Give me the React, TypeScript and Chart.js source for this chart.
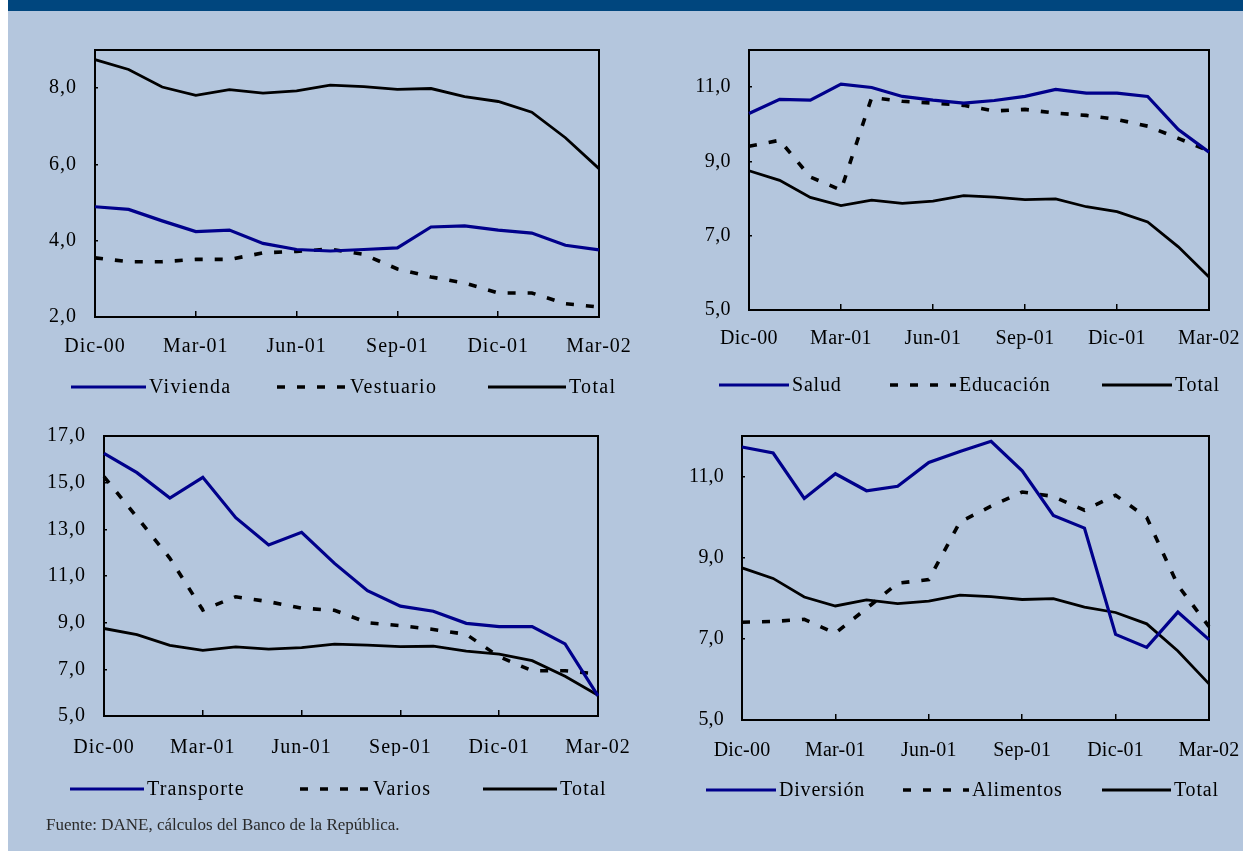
import React, { useEffect, useRef } from 'react';
import { Chart, registerables } from 'chart.js';
Chart.register(...registerables);

const months = ['Dic-00', 'Ene-01', 'Feb-01', 'Mar-01', 'Abr-01', 'May-01', 'Jun-01', 'Jul-01', 'Ago-01', 'Sep-01', 'Oct-01', 'Nov-01', 'Dic-01', 'Ene-02', 'Feb-02', 'Mar-02'];
const total = [8.75, 8.49, 8.03, 7.81, 7.96, 7.87, 7.93, 8.08, 8.04, 7.97, 7.99, 7.78, 7.65, 7.37, 6.70, 5.89];
const vivienda = [4.89, 4.82, 4.52, 4.24, 4.28, 3.93, 3.77, 3.73, 3.77, 3.81, 4.36, 4.39, 4.28, 4.20, 3.88, 3.76];
const vestuario = [3.55, 3.45, 3.45, 3.51, 3.51, 3.68, 3.72, 3.78, 3.64, 3.26, 3.05, 2.89, 2.63, 2.63, 2.35, 2.26];
const salud = [10.29, 10.67, 10.65, 11.08, 10.99, 10.75, 10.65, 10.57, 10.64, 10.75, 10.94, 10.84, 10.84, 10.75, 9.86, 9.25];
const educacion = [9.41, 9.57, 8.58, 8.23, 10.72, 10.62, 10.57, 10.51, 10.36, 10.40, 10.30, 10.24, 10.13, 9.95, 9.62, 9.28];
const transporte = [16.26, 15.43, 14.34, 15.23, 13.50, 12.33, 12.87, 11.54, 10.37, 9.71, 9.49, 8.97, 8.83, 8.83, 8.09, 5.86];
const varios = [15.26, 13.52, 11.76, 9.54, 10.11, 9.90, 9.62, 9.53, 9.00, 8.87, 8.71, 8.50, 7.54, 6.94, 6.94, 6.80];
const diversion = [11.73, 11.58, 10.46, 11.07, 10.65, 10.76, 11.35, 11.62, 11.87, 11.14, 10.04, 9.73, 7.11, 6.79, 7.66, 6.98];
const alimentos = [7.41, 7.43, 7.48, 7.14, 7.75, 8.37, 8.46, 9.88, 10.27, 10.62, 10.51, 10.17, 10.54, 9.99, 8.32, 7.30];

const yTicksViv = [2, 4, 6, 8];
const yTicksSal = [5, 7, 9, 11];
const yTicksTra = [5, 7, 9, 11, 13, 15, 17];
const yTicksDiv = [5, 7, 9, 11];

const BLUE = '#00008b';
const BLACK = '#000000';
const BG = '#b4c6dd';
const HEADER = '#00467e';
const FONT = "'Liberation Serif', 'Times New Roman', serif";

type Kind = 'blue' | 'dash' | 'black';
type Series = { label: string; data: number[]; kind: Kind };
type PanelCfg = {
  plot: { l: number; t: number; r: number; b: number };
  min: number;
  max: number;
  yTicks: number[];
  series: Series[];
  xPad: number;
  tickSpacing: number;
  legend: { dy: number; xs: number[]; lens: number[]; spacing: number };
};

const panels: PanelCfg[] = [
  {
    plot: { l: 95, t: 50, r: 599, b: 317 }, min: 2, max: 9, yTicks: yTicksViv,
    series: [
      { label: 'Vivienda', data: vivienda, kind: 'blue' },
      { label: 'Vestuario', data: vestuario, kind: 'dash' },
      { label: 'Total', data: total, kind: 'black' },
    ],
    xPad: 24, tickSpacing: 1,
    legend: { dy: 70, xs: [-24, 182, 393], lens: [75, 70, 78], spacing: 1.3 },
  },
  {
    plot: { l: 749, t: 50, r: 1209, b: 310 }, min: 5, max: 12, yTicks: yTicksSal,
    series: [
      { label: 'Salud', data: salud, kind: 'blue' },
      { label: 'Educación', data: educacion, kind: 'dash' },
      { label: 'Total', data: total, kind: 'black' },
    ],
    xPad: 23, tickSpacing: 0.4,
    legend: { dy: 75, xs: [-30, 141, 353], lens: [70, 66, 70], spacing: 0.8 },
  },
  {
    plot: { l: 104, t: 436, r: 598, b: 716 }, min: 5, max: 17, yTicks: yTicksTra,
    series: [
      { label: 'Transporte', data: transporte, kind: 'blue' },
      { label: 'Varios', data: varios, kind: 'dash' },
      { label: 'Total', data: total, kind: 'black' },
    ],
    xPad: 26, tickSpacing: 1,
    legend: { dy: 73, xs: [-34, 196, 379], lens: [74, 70, 74], spacing: 1.2 },
  },
  {
    plot: { l: 742, t: 436, r: 1209, b: 720 }, min: 5, max: 12, yTicks: yTicksDiv,
    series: [
      { label: 'Diversión', data: diversion, kind: 'blue' },
      { label: 'Alimentos', data: alimentos, kind: 'dash' },
      { label: 'Total', data: total, kind: 'black' },
    ],
    xPad: 25, tickSpacing: 0.2,
    legend: { dy: 70, xs: [-36, 161, 360], lens: [70, 66, 69], spacing: 0.8 },
  },
];

const styleFor = (kind: Kind) => {
  if (kind === 'blue') return { borderColor: BLUE, borderWidth: 3.2, borderDash: [] as number[] };
  if (kind === 'dash') return { borderColor: BLACK, borderWidth: 3.6, borderDash: [8, 12] };
  return { borderColor: BLACK, borderWidth: 2.8, borderDash: [] as number[] };
};

const setSpacing = (chart: any, px: number) => {
  try { (chart.ctx as any).letterSpacing = `${px}px`; } catch (e) { /* ignore */ }
};

const frameAndLegend = {
  id: 'frameAndLegend',
  beforeUpdate(chart: any, _a: any, opts: any) { setSpacing(chart, opts.tickSpacing || 0); },
  beforeLayout(chart: any, _a: any, opts: any) { setSpacing(chart, opts.tickSpacing || 0); },
  beforeDraw(chart: any, _a: any, opts: any) { setSpacing(chart, opts.tickSpacing || 0); },
  beforeDatasetsDraw(chart: any) {
    const { ctx, chartArea: a } = chart;
    ctx.save();
    ctx.strokeStyle = '#000';
    ctx.lineWidth = 2;
    ctx.strokeRect(a.left, a.top, a.right - a.left, a.bottom - a.top);
    ctx.restore();
  },
  afterDraw(chart: any, _args: any, opts: any) {
    const { ctx, chartArea: a } = chart;
    if (!opts || !opts.xs) return;
    ctx.save();
    ctx.font = `20px ${FONT}`;
    try { (ctx as any).letterSpacing = `${opts.spacing}px`; } catch (e) { /* ignore */ }
    ctx.textBaseline = 'middle';
    ctx.textAlign = 'left';
    ctx.fillStyle = '#000';
    const y = a.bottom + opts.dy;
    chart.data.datasets.forEach((ds: any, i: number) => {
      const x0 = a.left + opts.xs[i];
      const len = opts.lens[i];
      ctx.beginPath();
      ctx.setLineDash(ds.borderDash || []);
      ctx.lineWidth = ds.borderWidth;
      ctx.strokeStyle = ds.borderColor;
      ctx.moveTo(x0, y);
      ctx.lineTo(x0 + len, y);
      ctx.stroke();
      ctx.setLineDash([]);
      ctx.fillText(ds.label, x0 + len + 3, y + 1);
    });
    ctx.restore();
  },
};

const PAD_L = 90;
const PAD_T = 45;
const PAD_R = 65;
const PAD_B = 100;

function Panel({ cfg }: { cfg: PanelCfg }) {
  const ref = useRef<HTMLCanvasElement | null>(null);
  const cl = cfg.plot.l - PAD_L;
  const ct = cfg.plot.t - PAD_T;
  const cw = cfg.plot.r + PAD_R - cl;
  const ch = cfg.plot.b + PAD_B - ct;

  useEffect(() => {
    if (!ref.current) return;
    const chart = new Chart(ref.current, {
      type: 'line',
      data: {
        labels: months,
        datasets: cfg.series.map((s) => ({
          label: s.label,
          data: s.data,
          ...styleFor(s.kind),
          pointRadius: 0,
          tension: 0,
          fill: false,
        })),
      },
      options: {
        animation: false,
        responsive: false,
        layout: { padding: { left: 0, top: PAD_T, right: PAD_R, bottom: PAD_B - 40 } },
        plugins: {
          legend: { display: false },
          tooltip: { enabled: false },
          frameAndLegend: { ...cfg.legend, tickSpacing: cfg.tickSpacing },
        } as any,
        scales: {
          x: {
            type: 'category',
            offset: false,
            afterBuildTicks: (axis: any) => {
              axis.ticks = axis.ticks.filter((t: any) => t.value % 3 === 0);
            },
            afterFit: (axis: any) => { axis.height = 40; },
            grid: { display: true, drawOnChartArea: false, drawTicks: true, tickLength: -6, color: '#000', lineWidth: 1.5 },
            border: { display: true, color: '#000', width: 2 },
            ticks: {
              autoSkip: false, maxRotation: 0, minRotation: 0, padding: cfg.xPad,
              color: '#000', font: { family: FONT, size: 20 },
            },
          },
          y: {
            type: 'linear',
            min: cfg.min,
            max: cfg.max,
            afterBuildTicks: (axis: any) => {
              axis.ticks = cfg.yTicks.map((v) => ({ value: v }));
            },
            afterFit: (axis: any) => { axis.width = PAD_L; },
            grid: { display: true, drawOnChartArea: false, drawTicks: true, tickLength: -3, color: '#000', lineWidth: 1.5 },
            border: { display: true, color: '#000', width: 2 },
            ticks: {
              padding: 21,
              color: '#000',
              font: { family: FONT, size: 20 },
              callback: (v: any) => Number(v).toFixed(1).replace('.', ','),
            },
          },
        },
      },
      plugins: [frameAndLegend],
    });
    return () => chart.destroy();
  }, []);

  return (
    <canvas
      ref={ref}
      width={cw}
      height={ch}
      style={{ position: 'absolute', left: cl, top: ct, width: cw, height: ch }}
    />
  );
}

export default function App() {
  return (
    <div style={{ position: 'absolute', left: 0, top: 0, width: 1243, height: 852 }}>
      <div style={{ position: 'absolute', left: 8, top: 0, width: 1235, height: 851, background: BG }} />
      <div style={{ position: 'absolute', left: 8, top: 0, width: 1235, height: 11, background: HEADER }} />
      {panels.map((p, i) => (
        <Panel key={i} cfg={p} />
      ))}
      <div
        style={{
          position: 'absolute', left: 46, top: 815, fontFamily: FONT, fontSize: 17,
          color: '#2a2a2a', whiteSpace: 'nowrap', lineHeight: '20px',
        }}
      >
        Fuente: DANE, cálculos del Banco de la República.
      </div>
    </div>
  );
}
